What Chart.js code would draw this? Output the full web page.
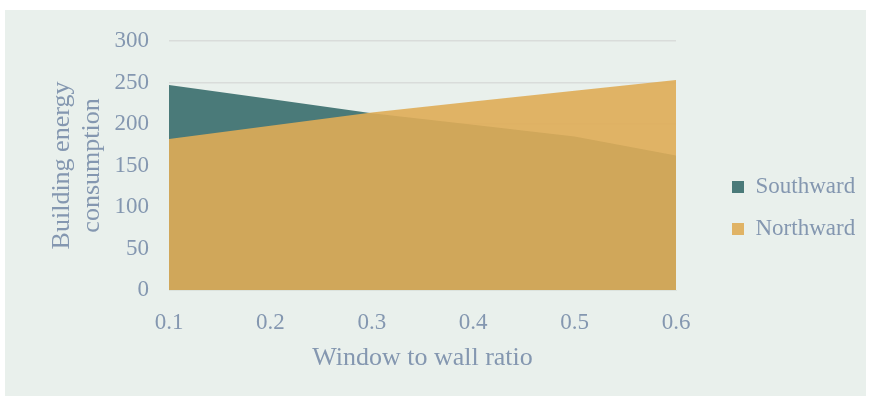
<!DOCTYPE html>
<html>
<head>
<meta charset="utf-8">
<script src="https://cdn.jsdelivr.net/npm/chart.js@4/dist/chart.umd.min.js"></script>
<style>
  html, body { margin: 0; padding: 0; background: #ffffff; }
  #panel {
    position: absolute; left: 5px; top: 10px;
    width: 861px; height: 386px;
    background: #E9F0EC;
  }
  #panel canvas { display: block; }
</style>
</head>
<body>
<div id="panel"><canvas id="chart" width="861" height="386"></canvas></div>
<script>
// Window-to-wall ratio categories
const ratios = ['0.1', '0.2', '0.3', '0.4', '0.5', '0.6'];
// Building energy consumption per orientation
const southward = [247, 230, 213, 199, 185, 162];
const northward = [182, 198, 214, 227, 240, 253];
// Value axis ticks
const yTicks = [0, 50, 100, 150, 200, 250, 300];

const textColor = '#8497B0';
const serif = '"Liberation Serif", "Times New Roman", serif';

const PLOT_LEFT = 164;    // canvas x of the plot's left edge
const PLOT_RIGHT = 671;   // canvas x of the plot's right edge
const PLOT_TOP = 31;
const PLOT_BOTTOM = 280;
const CANVAS_W = 861;
const CANVAS_H = 386;
const LEGEND_BOX_X = 727; // canvas x of the legend swatches
const LEGEND_PAD = 19;

// Keeps the legend column at a fixed x, independent of the plot width.
const legendPlacement = {
  id: 'legendPlacement',
  afterLayout(chart) {
    const lg = chart.legend;
    if (!lg) return;
    const w = lg.width;
    lg.left = LEGEND_BOX_X - LEGEND_PAD;
    lg.right = lg.left + w;
  }
};

new Chart(document.getElementById('chart'), {
  type: 'line',
  data: {
    labels: ratios,
    datasets: [
      {
        label: 'Southward',
        data: southward,
        order: 1,
        fill: 'origin',
        backgroundColor: '#4A7A79',
        borderColor: '#4A7A79',
        borderWidth: 0,
        pointRadius: 0,
        tension: 0
      },
      {
        label: 'Northward',
        data: northward,
        order: 0,
        fill: 'origin',
        backgroundColor: 'rgba(223,172,86,0.9)',
        borderColor: 'rgba(223,172,86,0.9)',
        borderWidth: 0,
        pointRadius: 0,
        tension: 0
      }
    ]
  },
  plugins: [legendPlacement],
  options: {
    responsive: false,
    animation: false,
    devicePixelRatio: 1,
    layout: { padding: { left: 0, right: 0, top: 10, bottom: 0 } },
    plugins: {
      tooltip: { enabled: false },
      legend: {
        position: 'right',
        labels: {
          color: textColor,
          font: { family: serif, size: 23 },
          boxWidth: 12,
          boxHeight: 12,
          padding: LEGEND_PAD,
          sort: (a, b) => a.datasetIndex - b.datasetIndex
        }
      }
    },
    scales: {
      x: {
        type: 'category',
        offset: false,
        grid: { display: false },
        border: { display: true, color: '#DCE3DE' },
        ticks: {
          color: textColor,
          font: { family: serif, size: 23 },
          padding: 11,
          maxRotation: 0
        },
        title: {
          display: true,
          text: 'Window to wall ratio',
          color: textColor,
          font: { family: serif, size: 26 },
          padding: { top: 0, bottom: 22 }
        },
        afterFit(scale) {
          scale.height = CANVAS_H - PLOT_BOTTOM;
          scale.paddingRight = CANVAS_W - PLOT_RIGHT;
        }
      },
      y: {
        min: 0,
        max: 300,
        afterBuildTicks(scale) {
          scale.ticks = yTicks.map(v => ({ value: v }));
        },
        grid: { color: '#D9DCDA', lineWidth: 1.5, drawTicks: false },
        border: { display: false },
        ticks: {
          color: textColor,
          font: { family: serif, size: 23 },
          padding: 20
        },
        title: {
          display: true,
          text: ['Building energy', 'consumption'],
          color: textColor,
          font: { family: serif, size: 26, lineHeight: 1.15 },
          padding: { top: 42, bottom: 0 }
        },
        afterFit(scale) {
          scale.width = PLOT_LEFT;
          scale.paddingTop = PLOT_TOP;
          scale.paddingBottom = 0;
        }
      }
    }
  }
});
</script>
</body>
</html>
